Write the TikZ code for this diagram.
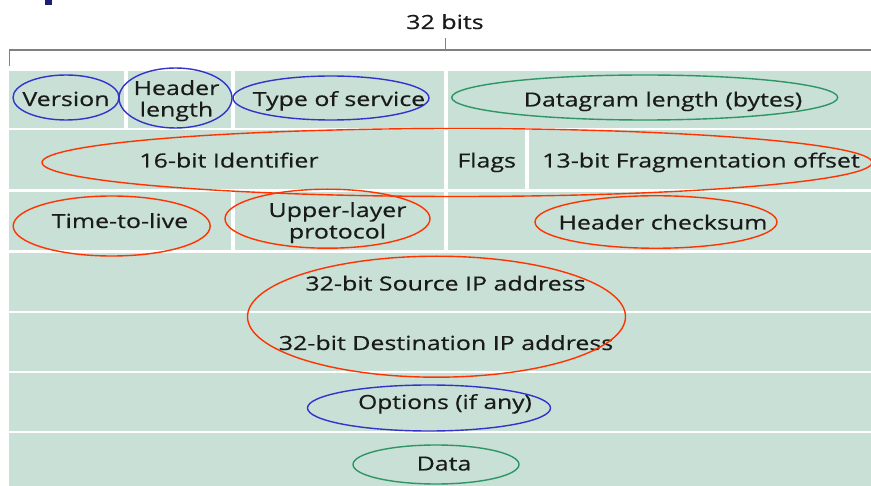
\documentclass[tikz,border=0pt]{standalone}
\usepackage{fontspec}
\setmainfont{Open Sans}[FakeStretch=1.28,FakeBold=0.5]
\usetikzlibrary{shapes.geometric}
\definecolor{cellfill}{RGB}{200,224,214}
\definecolor{ovblue}{RGB}{51,51,204}
\definecolor{ovred}{RGB}{255,51,0}
\definecolor{ovgreen}{RGB}{46,150,100}
\definecolor{txt}{RGB}{26,26,26}
\definecolor{navy}{RGB}{30,30,120}
\tikzset{
  cell/.style={fill=cellfill, draw=none},
  lab/.style={inner sep=0pt, anchor=base, text=txt, font=\fontsize{19.5}{22}\selectfont},
  ov/.style={ellipse, draw, line width=1.4pt, inner sep=0pt, fill=none},
}
\begin{document}
\begin{tikzpicture}[x=1pt,y=-1pt]
\useasboundingbox (0,0) rectangle (871,486);
\clip (0,0) rectangle (871,486);
\fill[navy] (45,0) rectangle (52,5);
% bracket
\coordinate (bl) at (9.5,66);
\coordinate (bt) at (9.5,50);
\coordinate (br) at (880,50);
\coordinate (bm) at (445.5,50);
\coordinate (bmt) at (445.5,38);
\draw[gray, line width=1.3pt] (bl) -- (bt) -- (br);
\draw[gray, line width=1.1pt] (bm) -- (bmt);
\node[lab] (bits) at (445,29) {32 bits};
% row 1
\fill[cell] (9.3,71) rectangle (124.3,128);
\fill[cell] (127.7,71) rectangle (231,128);
\fill[cell] (234.7,71) rectangle (444.3,128);
\fill[cell] (447.7,71) rectangle (885,128);
% row 2
\fill[cell] (9.3,130.5) rectangle (444.3,189.5);
\fill[cell] (447.7,130.5) rectangle (525.3,189.5);
\fill[cell] (528.7,130.5) rectangle (885,189.5);
% row 3
\fill[cell] (9.3,192) rectangle (231,250);
\fill[cell] (234.7,192) rectangle (444.3,250);
\fill[cell] (447.7,192) rectangle (885,250);
% rows 4-7
\fill[cell] (9.3,253) rectangle (885,311);
\fill[cell] (9.3,313.5) rectangle (885,371);
\fill[cell] (9.3,373.5) rectangle (885,431);
\fill[cell] (9.3,433.5) rectangle (885,490);
% texts
\node[lab] (ver) at (66,106) {Version};
\node[lab] (hl1) at (176.5,95) {Header};
\node[lab] (hl2) at (176.5,116.5) {length};
\node[lab] (tos) at (339,106) {Type of service};
\node[lab] (dl) at (663,106.5) {Datagram length (bytes)};
\node[lab] (id) at (229,167.5) {16-bit Identifier};
\node[lab] (fl) at (486.7,167.5) {Flags};
\node[lab] (fo) at (701,167.5) {13-bit Fragmentation offset};
\node[lab] (ttl) at (120,228) {Time-to-live};
\node[lab] (ulp1) at (337.5,217) {Upper-layer};
\node[lab] (ulp2) at (337.5,238.5) {protocol};
\node[lab] (hc) at (663,229.5) {Header checksum};
\node[lab] (src) at (445.5,290.5) {32-bit Source IP address};
\node[lab] (dst) at (446,350) {32-bit Destination IP address};
\node[lab] (opt) at (445,409) {\addfontfeature{FakeStretch=1.26}Options (if any)};
\node[lab] (dat) at (444,470.5) {Data};
% ovals
\node[ov, draw=ovblue, minimum width=106pt, minimum height=45pt] (oVer) at (66,97.5) {};
\node[ov, draw=ovblue, minimum width=113pt, minimum height=60pt] (oHl) at (175.5,98) {};
\node[ov, draw=ovblue, minimum width=196pt, minimum height=44pt] (oTos) at (331,98) {};
\node[ov, draw=ovgreen, minimum width=386pt, minimum height=45pt] (oDl) at (644.7,97.5) {};
\node[ov, draw=ovred, minimum width=830pt, minimum height=68pt] (oId) at (457,162.5) {};
\node[ov, draw=ovred, minimum width=197pt, minimum height=60pt] (oTtl) at (111.7,226) {};
\node[ov, draw=ovred, minimum width=205pt, minimum height=59pt] (oUlp) at (327.5,218.7) {};
\node[ov, draw=ovred, minimum width=242pt, minimum height=52.5pt] (oHc) at (656,222) {};
\node[ov, draw=ovred, minimum width=378pt, minimum height=121pt] (oIp) at (436.5,316.7) {};
\node[ov, draw=ovblue, minimum width=243pt, minimum height=46pt] (oOpt) at (429,408) {};
\node[ov, draw=ovgreen, minimum width=166pt, minimum height=39pt] (oDat) at (436,464.5) {};
\end{tikzpicture}
\end{document}
